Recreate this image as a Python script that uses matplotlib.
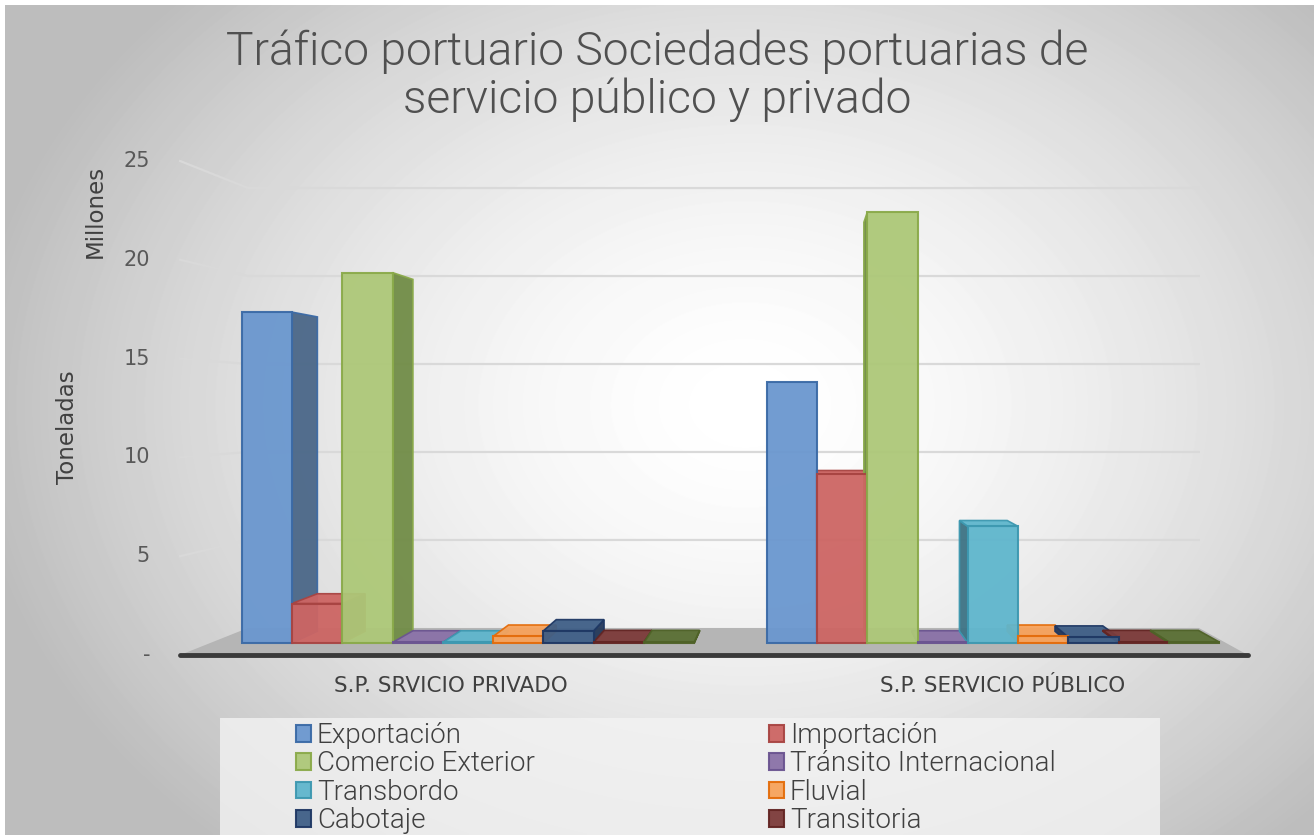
# Tráfico portuario - barras con efecto 3D
import numpy as np
import matplotlib
matplotlib.use("Agg")
import matplotlib.pyplot as plt
from matplotlib.patches import Polygon

# datos (millones de toneladas)
categorias = ["S.P. SRVICIO PRIVADO", "S.P. SERVICIO PÚBLICO"]
series = ["Exportación", "Importación", "Comercio Exterior", "Tránsito Internacional",
          "Transbordo", "Fluvial", "Cabotaje", "Transitoria", "Otros"]
privado = [17.6, 2.1, 19.7, 0.03, 0.03, 0.35, 0.65, 0.05, 0.05]
publico = [13.9, 9.0, 22.9, 0.03, 6.2, 0.35, 0.3, 0.05, 0.05]
yticks = [0, 5, 10, 15, 20, 25]
ytick_labels = ["-", "5", "10", "15", "20", "25"]

frente = ["#6a97cf", "#cd6563", "#adc878", "#8a72a8", "#5fb6cd", "#f7a35c", "#3f5f87", "#7c3b3a", "#5b7034"]
lado = ["#4a6788", "#8f3d3b", "#718c47", "#645480", "#3d7385", "#d9772a", "#24395a", "#5a2726", "#44552a"]
borde = ["#3b6aa6", "#a84442", "#8aaa4a", "#6a5490", "#3d98b0", "#e46c0a", "#1f3864", "#632523", "#4f6228"]

# escala: px = 468 + 525*x ; py = 643 - 18.8*h
def px2d(px, py):
    return (px - 468) / 525, (643 - py) / 18.8

XV, HV = 0.632, 12.5          # punto de fuga
S_BAR, S_WALL, S_FRONT = 0.95, 0.936, 1.051
XL, XR = -0.491, 1.444
W = 0.0958

def proj(x, h, s):
    return XV + (x - XV) * s, HV + (h - HV) * s

fig = plt.figure(figsize=(13.14, 8.35), dpi=100)
fig.patch.set_facecolor("white")
ax = fig.add_axes([0, 0, 1, 1])
x0, y0 = px2d(0, 835)
x1, y1 = px2d(1314, 0)
ax.set_xlim(x0, x1)
ax.set_ylim(y0, y1)
ax.axis("off")

# fondo degradado radial
yy, xx = np.mgrid[0:830, 0:1309]
r = np.sqrt(((xx - 740) / 850) ** 2 + ((yy - 400) / 650) ** 2)
fondo = np.clip(1 - 0.30 * r ** 1.6, 0.74, 1)
bx0, by1 = px2d(5, 5)
ax.imshow(fondo, cmap="gray", vmin=0, vmax=1, extent=(bx0, x1, y0, by1),
          aspect="auto", zorder=0, interpolation="bilinear")

# lineas de cuadricula (pared izquierda y fondo)
for v in yticks[1:]:
    a = proj(XL, v, S_FRONT)
    b = proj(XL, v, S_WALL)
    c = proj(XR, v, S_WALL)
    ax.plot([a[0], b[0], c[0]], [a[1], b[1], c[1]], color="#d9d9d9", lw=1.6, zorder=1)

# piso
piso = [proj(XL, 0, S_FRONT), proj(XR, 0, S_FRONT), proj(XR, 0, S_WALL), proj(XL, 0, S_WALL)]
ax.add_patch(Polygon(piso, closed=True, facecolor="#b5b5b5", edgecolor="none", zorder=1))
a, b = proj(XL, 0, S_FRONT), proj(XR, 0, S_FRONT)
ax.plot([a[0], b[0]], [a[1], b[1]], color="#3a3a3a", lw=3.5, solid_capstyle="round", zorder=2)

# caras laterales y superiores
for g, vals in enumerate([privado, publico]):
    for j, v in enumerate(vals):
        xc = g + (j - 4) * W
        xl, xr = xc - W / 2, xc + W / 2
        if xc < XV:
            xs = xr
        else:
            xs = xl
        if not (xl < XV < xr):
            cara = [(xs, 0), (xs, v), proj(xs, v, S_BAR), proj(xs, 0, S_BAR)]
            ax.add_patch(Polygon(cara, closed=True, facecolor=lado[j], edgecolor=borde[j],
                                 lw=1.2, alpha=0.95, zorder=3))
        if v < HV:
            tapa = [(xl, v), (xr, v), proj(xr, v, S_BAR), proj(xl, v, S_BAR)]
            ax.add_patch(Polygon(tapa, closed=True, facecolor=frente[j], edgecolor=borde[j],
                                 lw=1.2, alpha=0.95, zorder=3))

# caras frontales
xs_pos = np.arange(len(series))
for g, vals in enumerate([privado, publico]):
    xpos = g + (xs_pos - 4) * W
    for j in range(len(series)):
        ax.bar(xpos[j], vals[j], width=W, bottom=0, color=frente[j], edgecolor=borde[j],
               lw=1.5, alpha=0.95, zorder=4, label=series[j] if g == 0 else None)

# etiquetas del eje Y
tx, _ = px2d(150, 0)
for v, lab in zip(yticks, ytick_labels):
    ax.text(tx, proj(XL, v, S_FRONT)[1], lab, ha="right", va="center", fontsize=15,
            color="#595959", family="DejaVu Sans")

# etiquetas de categoria
_, cy = px2d(0, 686)
for g, cat in enumerate(categorias):
    ax.text(proj(g, 0, S_FRONT)[0], cy, cat, ha="center", va="center", fontsize=15.5,
            color="#404040", family="DejaVu Sans")

# titulos de ejes
p = px2d(67, 427)
ax.text(p[0], p[1], "Toneladas", rotation=90, ha="center", va="center", fontsize=16.5,
        color="#404040", family="DejaVu Sans")
p = px2d(95, 211)
ax.text(p[0], p[1], "Millones", rotation=90, ha="center", va="center", fontsize=16.5,
        color="#404040", family="DejaVu Sans")

# titulo
fig.text(657 / 1314, 1 - 52 / 835, "Tráfico portuario Sociedades portuarias de",
         ha="center", va="center", fontsize=33.3, color="#505050", family=["Roboto", "DejaVu Sans"],
         fontweight=300)
fig.text(657 / 1314, 1 - 100 / 835, "servicio público y privado",
         ha="center", va="center", fontsize=33.3, color="#505050", family=["Roboto", "DejaVu Sans"],
         fontweight=300)

# leyenda
lx0, ly0 = px2d(220, 835)
lx1, ly1 = px2d(1160, 718)
ax.add_patch(plt.Rectangle((lx0, ly0), lx1 - lx0, ly1 - ly0, facecolor="#f3f3f3",
                           edgecolor="none", alpha=0.8, zorder=1))
handles, labels = ax.get_legend_handles_labels()
estilo = dict(loc="upper left", frameon=False, handlelength=0.55, handleheight=0.55,
              handletextpad=0.2, labelspacing=0.05, borderpad=0, borderaxespad=0,
              prop={"family": ["Roboto", "DejaVu Sans"], "size": 20, "weight": 300})
leg1 = fig.legend([handles[i] for i in [0, 2, 4, 6]], [labels[i] for i in [0, 2, 4, 6]],
                  bbox_to_anchor=(296 / 1314, 1 - 722 / 835), **estilo)
leg2 = fig.legend([handles[i] for i in [1, 3, 5, 7]], [labels[i] for i in [1, 3, 5, 7]],
                  bbox_to_anchor=(769 / 1314, 1 - 722 / 835), **estilo)
for leg in (leg1, leg2):
    for t in leg.get_texts():
        t.set_color("#404040")

fig.savefig("out.png", dpi=100)
